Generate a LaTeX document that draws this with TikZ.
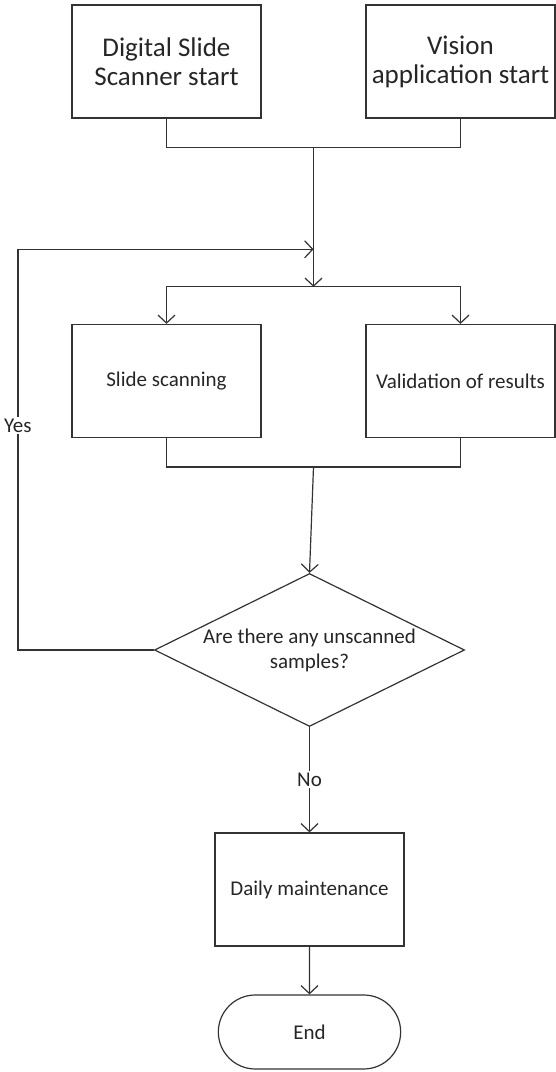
\documentclass[tikz,border=0pt]{standalone}
\usepackage{fontspec}
\setmainfont{Carlito}
\usepackage{tikz}
\definecolor {linegray}{gray}{0.2}
\usetikzlibrary {positioning,calc,arrows.meta,shapes.geometric,shapes.misc}

\begin{document}
\begin{tikzpicture}[-{Straight Barb[length=8pt,width=17pt]} ,auto ,node distance =3 cm and 3cm ,on grid ,
line width=1.2pt, draw=linegray,
box/.style ={ rectangle , draw=linegray , text=black!85 , minimum width =189pt ,
minimum height =113pt , align=center , font=\fontsize{21}{25}\selectfont},
bigbox/.style ={ box , font=\fontsize{27}{29}\selectfont},
decision/.style ={ diamond , aspect=2 , draw=linegray , text=black!85 , inner sep=-3pt ,
minimum width =310pt , minimum height =153pt , align=center , font=\fontsize{21}{25}\selectfont},
terminal/.style ={ rounded rectangle , draw=linegray , text=black!85 , minimum width =189pt ,
minimum height =74pt , font=\fontsize{21}{25}\selectfont},
answer/.style ={ auto=false , anchor=center , fill=white , inner sep=1.5pt , text=black!85 ,
font=\fontsize{21}{25}\selectfont}]
  \useasboundingbox (0,0) rectangle (555pt,1072pt);
  \node[bigbox](scanner) at (166.5pt,1010.5pt) {Digital Slide\\Scanner start};
  \node[bigbox](vision)[right = 294pt of scanner]{Vision\\application start};
  \node[box](slide)[below = 319.5pt of scanner]{Slide scanning};
  \node[box](valid)[below = 319.5pt of vision]{Validation of results};
  \node[decision](check)[below right = 269pt and 143pt of slide]{Are there any unscanned\\samples?};
  \node[box](maint)[below = 239.5pt of check]{Daily maintenance};
  \node[terminal](finish)[below = 142.5pt of maint]{End};
  \coordinate (topjoin) at ($(scanner.south)!.5!(vision.south)+(0,-29pt)$);
  \coordinate (split) at ($(slide.north)!.5!(valid.north)+(0,37pt)$);
  \coordinate (back) at ($(topjoin)!.73!(split)$);
  \coordinate (botjoin) at ($(slide.south)!.5!(valid.south)+(0,-29pt)$);
  \coordinate (loop) at ($(check.west)+(-136pt,0)$);
  \draw[-] (scanner.south) |- (topjoin) -| (vision.south);
  \draw (topjoin) -- (split);
  \draw (split) -| (slide.north);
  \draw (split) -| (valid.north);
  \draw[-] (slide.south) |- (botjoin) -| (valid.south);
  \draw (botjoin) -- (check.north);
  \draw (check.west) -- (loop) |- node[answer, pos=0.28]{Yes} (back);
  \path (check) edge node[answer, pos=0.5]{No} (maint);
  \path (maint) edge (finish);
\end{tikzpicture}
\end{document}
